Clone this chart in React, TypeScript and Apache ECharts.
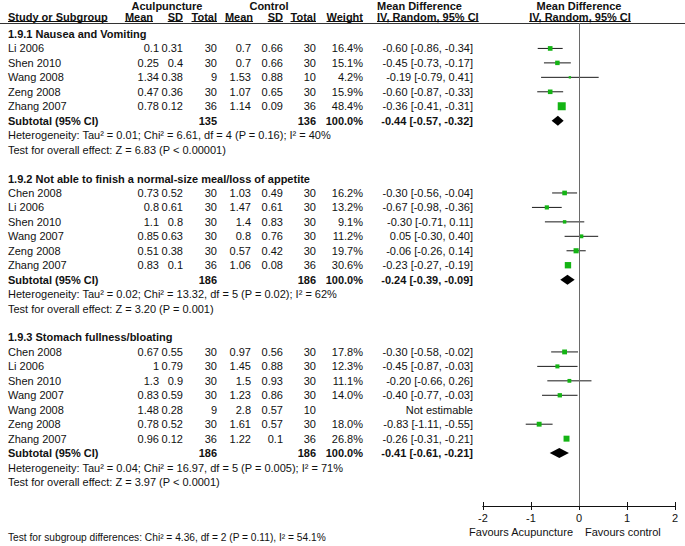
import React, { useEffect, useRef } from "react";
import * as echarts from "echarts";

const groupTitles = [
  "1.9.1 Nausea and Vomiting",
  "1.9.2 Not able to finish a normal-size meal/loss of appetite",
  "1.9.3 Stomach fullness/bloating",
];

// [study, acuMean, acuSD, acuTotal, ctlMean, ctlSD, ctlTotal, weight, md, lo, hi]
const nauseaStudies: any[][] = [
  ["Li 2006", 0.1, 0.31, 30, 0.7, 0.66, 30, 16.4, -0.6, -0.86, -0.34],
  ["Shen 2010", 0.25, 0.4, 30, 0.7, 0.66, 30, 15.1, -0.45, -0.73, -0.17],
  ["Wang 2008", 1.34, 0.38, 9, 1.53, 0.88, 10, 4.2, -0.19, -0.79, 0.41],
  ["Zeng 2008", 0.47, 0.36, 30, 1.07, 0.65, 30, 15.9, -0.6, -0.87, -0.33],
  ["Zhang 2007", 0.78, 0.12, 36, 1.14, 0.09, 36, 48.4, -0.36, -0.41, -0.31],
];
const appetiteStudies: any[][] = [
  ["Chen 2008", 0.73, 0.52, 30, 1.03, 0.49, 30, 16.2, -0.3, -0.56, -0.04],
  ["Li 2006", 0.8, 0.61, 30, 1.47, 0.61, 30, 13.2, -0.67, -0.98, -0.36],
  ["Shen 2010", 1.1, 0.8, 30, 1.4, 0.83, 30, 9.1, -0.3, -0.71, 0.11],
  ["Wang 2007", 0.85, 0.63, 30, 0.8, 0.76, 30, 11.2, 0.05, -0.3, 0.4],
  ["Zeng 2008", 0.51, 0.38, 30, 0.57, 0.42, 30, 19.7, -0.06, -0.26, 0.14],
  ["Zhang 2007", 0.83, 0.1, 36, 1.06, 0.08, 36, 30.6, -0.23, -0.27, -0.19],
];
const bloatingStudies: any[][] = [
  ["Chen 2008", 0.67, 0.55, 30, 0.97, 0.56, 30, 17.8, -0.3, -0.58, -0.02],
  ["Li 2006", 1, 0.79, 30, 1.45, 0.88, 30, 12.3, -0.45, -0.87, -0.03],
  ["Shen 2010", 1.3, 0.9, 30, 1.5, 0.93, 30, 11.1, -0.2, -0.66, 0.26],
  ["Wang 2007", 0.83, 0.59, 30, 1.23, 0.86, 30, 14.0, -0.4, -0.77, -0.03],
  ["Wang 2008", 1.48, 0.28, 9, 2.8, 0.57, 10, null, null, null, null],
  ["Zeng 2008", 0.78, 0.52, 30, 1.61, 0.57, 30, 18.0, -0.83, -1.11, -0.55],
  ["Zhang 2007", 0.96, 0.12, 36, 1.22, 0.1, 36, 26.8, -0.26, -0.31, -0.21],
];
// [acuTotal, ctlTotal, md, lo, hi]
const subtotals = [
  [135, 136, -0.44, -0.57, -0.32],
  [186, 186, -0.24, -0.39, -0.09],
  [186, 186, -0.41, -0.61, -0.21],
];
const heterogeneity = [
  "Heterogeneity: Tau² = 0.01; Chi² = 6.61, df = 4 (P = 0.16); I² = 40%",
  "Heterogeneity: Tau² = 0.02; Chi² = 13.32, df = 5 (P = 0.02); I² = 62%",
  "Heterogeneity: Tau² = 0.04; Chi² = 16.97, df = 5 (P = 0.005); I² = 71%",
];
const overallEffect = [
  "Test for overall effect: Z = 6.83 (P < 0.00001)",
  "Test for overall effect: Z = 3.20 (P = 0.001)",
  "Test for overall effect: Z = 3.97 (P < 0.0001)",
];
const subgroupTest = "Test for subgroup differences: Chi² = 4.36, df = 2 (P = 0.11), I² = 54.1%";
const xTickMin = -2;
const xTickMax = 2;
const favoursLeft = "Favours Acupuncture";
const favoursRight = "Favours control";

const FONT = "'Liberation Sans', Arial, Helvetica, sans-serif";
const TXT = "#111";
const GREEN = "#14b414";

function buildRows() {
  const groups = [nauseaStudies, appetiteStudies, bloatingStudies];
  const rows: any[] = [];
  let r = 0;
  groups.forEach((studies, g) => {
    rows.push({ r, kind: "title", text: groupTitles[g] });
    studies.forEach((s, i) => rows.push({ r: r + 1 + i, kind: "study", s }));
    const sub = r + 1 + studies.length;
    rows.push({ r: sub, kind: "subtotal", s: subtotals[g] });
    rows.push({ r: sub + 1, kind: "het", text: heterogeneity[g] });
    rows.push({ r: sub + 2, kind: "test", text: overallEffect[g] });
    r = sub + 4;
  });
  return rows;
}

const f2 = (v: number) => v.toFixed(2);
const mdText = (md: number, lo: number, hi: number) => `${f2(md)} [${f2(lo)}, ${f2(hi)}]`;

function measure(text: string, font: string) {
  const c = document.createElement("canvas").getContext("2d");
  if (!c) return text.length * 6;
  c.font = font;
  return c.measureText(text).width;
}

export default function App() {
  const ref = useRef<HTMLDivElement>(null);
  useEffect(() => {
    if (!ref.current) return;
    const chart = echarts.init(ref.current, undefined, { renderer: "svg" });
    const rows = buildRows();

    const COL = { acuMean: 159, acuSd: 183, acuN: 217, ctlMean: 251, ctlSd: 283, ctlN: 316, w: 363, md: 473 };

    const font = (bold: boolean, size = 11) => `${bold ? "bold " : ""}${size}px ${FONT}`;

    const textData = rows.map((row, i) => [0, row.r, i]);
    const studyData: any[] = [];
    const diamondData: any[] = [];
    rows.forEach((row) => {
      if (row.kind === "study" && row.s[8] != null) {
        studyData.push([row.s[8], row.r, row.s[9], row.s[10], row.s[7]]);
      }
      if (row.kind === "subtotal") {
        diamondData.push([row.s[2], row.r, row.s[3], row.s[4]]);
      }
    });

    const hdr1Y = 5.5;
    const hdr2Y = 17;
    const headerElems: any[] = [];
    const addHdr = (text: string, x: number, y: number, align: string, underline: boolean) => {
      headerElems.push({
        type: "text",
        x,
        y,
        style: { text, fill: TXT, font: font(true), align, verticalAlign: "middle" },
        silent: true,
      });
      if (underline) {
        const w = measure(text, font(true));
        let x1 = x;
        if (align === "right") x1 = x - w;
        if (align === "center") x1 = x - w / 2;
        headerElems.push({
          type: "line",
          shape: { x1, y1: 21.5, x2: x1 + w, y2: 21.5 },
          style: { stroke: TXT, lineWidth: 1 },
          silent: true,
        });
      }
    };
    addHdr("Aculpuncture", 167, hdr1Y, "center", false);
    addHdr("Control", 269, hdr1Y, "center", false);
    addHdr("Mean Difference", 377, hdr1Y, "left", false);
    addHdr("Mean Difference", 579, hdr1Y, "center", false);
    addHdr("Study or Subgroup", 8, hdr2Y, "left", true);
    addHdr("Mean", 153, hdr2Y, "right", true);
    addHdr("SD", 183, hdr2Y, "right", true);
    addHdr("Total", 217, hdr2Y, "right", true);
    addHdr("Mean", 253, hdr2Y, "right", true);
    addHdr("SD", 283, hdr2Y, "right", true);
    addHdr("Total", 316, hdr2Y, "right", true);
    addHdr("Weight", 363, hdr2Y, "right", true);
    addHdr("IV, Random, 95% CI", 377, hdr2Y, "left", true);
    addHdr("IV, Random, 95% CI", 580, hdr2Y, "center", true);
    headerElems.push({
      type: "line",
      shape: { x1: 0, y1: 23.5, x2: 685, y2: 23.5 },
      style: { stroke: "#333", lineWidth: 1 },
      silent: true,
    });
    headerElems.push({
      type: "text",
      x: 573,
      y: 532,
      style: { text: favoursLeft, fill: TXT, font: font(false), align: "right", verticalAlign: "middle" },
      silent: true,
    });
    headerElems.push({
      type: "text",
      x: 585,
      y: 532,
      style: { text: favoursRight, fill: TXT, font: font(false), align: "left", verticalAlign: "middle" },
      silent: true,
    });
    headerElems.push({
      type: "text",
      x: 8,
      y: 537,
      style: { text: subgroupTest, fill: TXT, font: font(false, 10.2), align: "left", verticalAlign: "middle" },
      silent: true,
    });

    const xAxisBase = {
      type: "value",
      min: xTickMin,
      max: xTickMax,
      interval: 1,
      gridIndex: 0,
      position: "bottom",
      splitLine: { show: false },
      axisLine: { show: true, onZero: false, lineStyle: { color: "#111", width: 1 } },
    };

    chart.setOption({
      animation: false,
      backgroundColor: "#fff",
      textStyle: { fontFamily: FONT },
      grid: { left: 483, width: 192, top: 23, height: 483, containLabel: false },
      xAxis: [
        {
          ...xAxisBase,
          axisTick: { show: true, length: 4, lineStyle: { color: "#111" } },
          axisLabel: { show: true, fontSize: 11, color: TXT, margin: 6, fontFamily: FONT },
        },
        {
          ...xAxisBase,
          axisTick: { show: true, inside: true, length: 4, lineStyle: { color: "#111" } },
          axisLabel: { show: false },
        },
      ],
      yAxis: {
        type: "value",
        min: -0.76,
        max: 32.66,
        inverse: true,
        show: false,
      },
      graphic: { elements: headerElems },
      series: [
        {
          type: "line",
          data: [],
          silent: true,
          markLine: {
            symbol: "none",
            silent: true,
            label: { show: false },
            lineStyle: { color: "#6a6a6a", type: "solid", width: 1 },
            data: [{ xAxis: 0 }],
          },
        },
        {
          type: "custom",
          clip: false,
          silent: true,
          data: textData,
          encode: { x: 0, y: 1 },
          renderItem: (params: any, api: any) => {
            const row = rows[api.value(2)];
            const y = api.coord([0, api.value(1)])[1];
            const t = (text: string, x: number, align: string, bold = false) => ({
              type: "text",
              x,
              y,
              style: { text, fill: TXT, font: font(bold), align, verticalAlign: "middle" },
            });
            const kids: any[] = [];
            if (row.kind === "title") kids.push(t(row.text, 8, "left", true));
            else if (row.kind === "het" || row.kind === "test") kids.push(t(row.text, 8, "left"));
            else if (row.kind === "study") {
              const s = row.s;
              kids.push(t(s[0], 8, "left"));
              kids.push(t(String(s[1]), COL.acuMean, "right"));
              kids.push(t(String(s[2]), COL.acuSd, "right"));
              kids.push(t(String(s[3]), COL.acuN, "right"));
              kids.push(t(String(s[4]), COL.ctlMean, "right"));
              kids.push(t(String(s[5]), COL.ctlSd, "right"));
              kids.push(t(String(s[6]), COL.ctlN, "right"));
              if (s[7] != null) {
                kids.push(t(s[7].toFixed(1) + "%", COL.w, "right"));
                kids.push(t(mdText(s[8], s[9], s[10]), COL.md, "right"));
              } else {
                kids.push(t("Not estimable", COL.md, "right"));
              }
            } else if (row.kind === "subtotal") {
              const s = row.s;
              kids.push(t("Subtotal (95% CI)", 8, "left", true));
              kids.push(t(String(s[0]), COL.acuN, "right", true));
              kids.push(t(String(s[1]), COL.ctlN, "right", true));
              kids.push(t("100.0%", COL.w, "right", true));
              kids.push(t(mdText(s[2], s[3], s[4]), COL.md, "right", true));
            }
            return { type: "group", children: kids };
          },
        },
        {
          type: "custom",
          clip: false,
          silent: true,
          data: studyData,
          encode: { x: 0, y: 1 },
          renderItem: (params: any, api: any) => {
            const r = api.value(1);
            const c = api.coord([api.value(0), r]);
            const lo = api.coord([api.value(2), r]);
            const hi = api.coord([api.value(3), r]);
            const size = 1.15 * Math.sqrt(api.value(4));
            return {
              type: "group",
              children: [
                {
                  type: "line",
                  shape: { x1: lo[0], y1: c[1], x2: hi[0], y2: c[1] },
                  style: { stroke: "#1a1a1a", lineWidth: 1 },
                },
                {
                  type: "rect",
                  shape: { x: c[0] - size / 2, y: c[1] - size / 2, width: size, height: size },
                  style: { fill: GREEN },
                },
              ],
            };
          },
        },
        {
          type: "custom",
          clip: false,
          silent: true,
          data: diamondData,
          encode: { x: 0, y: 1 },
          renderItem: (params: any, api: any) => {
            const r = api.value(1);
            const c = api.coord([api.value(0), r]);
            const lo = api.coord([api.value(2), r]);
            const hi = api.coord([api.value(3), r]);
            const h = 5;
            return {
              type: "polygon",
              shape: {
                points: [
                  [lo[0], c[1]],
                  [c[0], c[1] - h],
                  [hi[0], c[1]],
                  [c[0], c[1] + h],
                ],
              },
              style: { fill: "#000" },
            };
          },
        },
      ],
    });
    return () => chart.dispose();
  }, []);
  return (
    <div
      ref={ref}
      style={{ position: "absolute", left: 0, top: 0, width: 685, height: 546, background: "#fff" }}
    />
  );
}
